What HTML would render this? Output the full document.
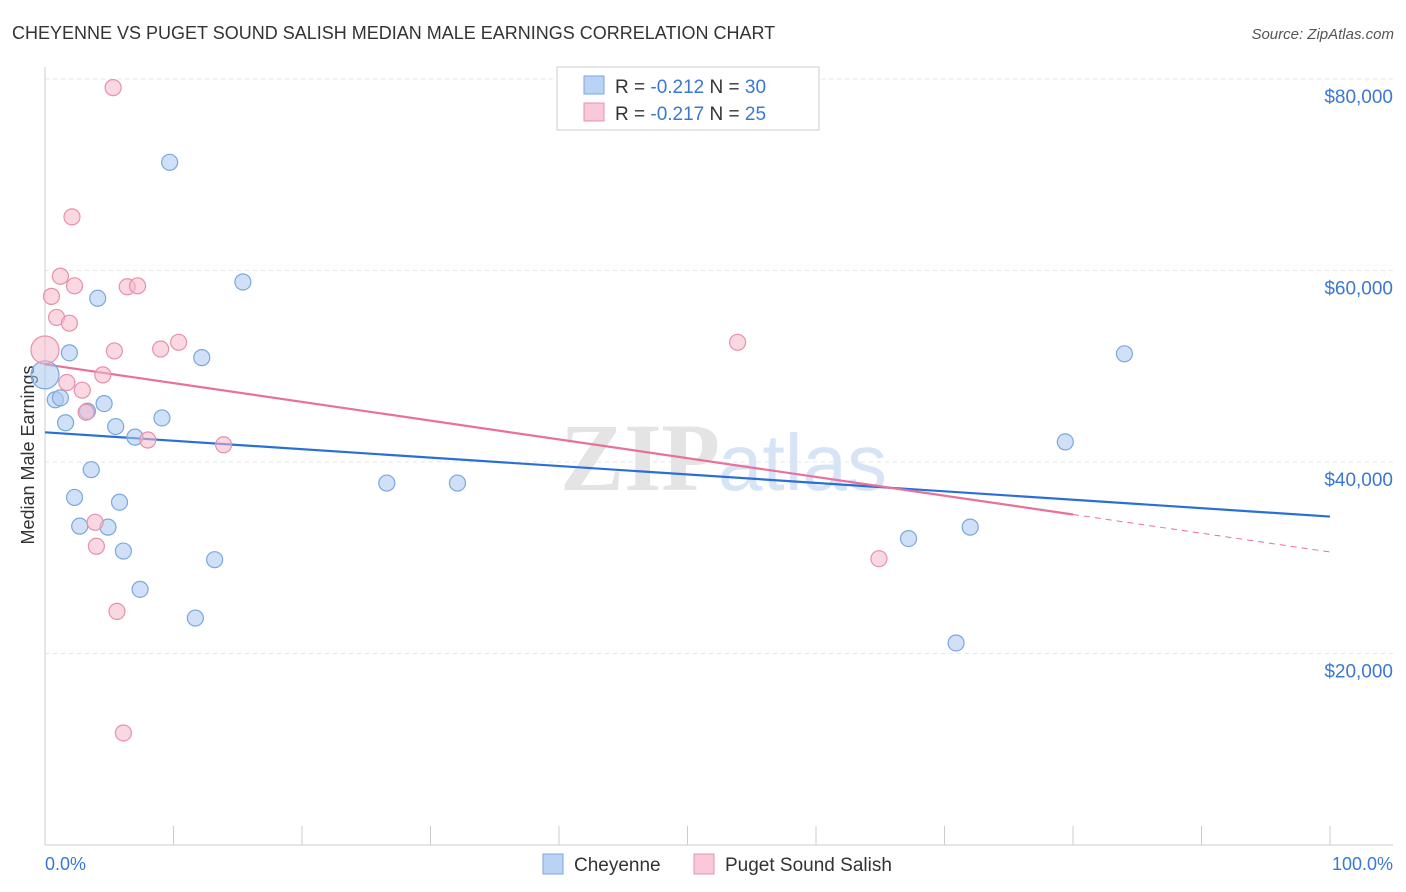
<!DOCTYPE html>
<html><head><meta charset="utf-8"><style>
body{margin:0;background:#fff;font-family:"Liberation Sans",sans-serif;}
svg{display:block}
</style></head><body>
<svg width="1406" height="892" xmlns="http://www.w3.org/2000/svg">
<text x="12" y="39" font-size="18" fill="#333">CHEYENNE VS PUGET SOUND SALISH MEDIAN MALE EARNINGS CORRELATION CHART</text>
<text x="1394" y="39" font-size="15" fill="#555" font-style="italic" text-anchor="end">Source: ZipAtlas.com</text>
<g id="grid"></g>
<text x="720" y="490" font-size="96" fill="#e4e4e4" text-anchor="end" font-family="Liberation Serif" font-weight="bold">ZIP</text>
<text x="718" y="490" font-size="80" fill="#d6e4f5">atlas</text>
<line x1="45" y1="67" x2="45" y2="845" stroke="#ccc"/>
<line x1="45" y1="845" x2="1393" y2="845" stroke="#ccc"/>
<g id="xt"></g>
<g id="yl"></g>
<text x="34" y="455" font-size="18" fill="#333" text-anchor="middle" transform="rotate(-90 34 455)">Median Male Earnings</text>
<text x="45" y="870" font-size="18" fill="#3a78d4">0.0%</text>
<text x="1393" y="870" font-size="18" fill="#3a78d4" text-anchor="end">100.0%</text>
<g id="lines"></g>
<g id="pts"></g>
<g>
<rect x="557" y="67" width="262" height="63" fill="#fff" stroke="#ccc"/>
<rect x="584" y="76" width="20" height="18" fill="#b9d3f5" stroke="#7aa7e0"/>
<rect x="584" y="103" width="20" height="18" fill="#f9c9d8" stroke="#e890ab"/>
<text x="615" y="93" font-size="19" fill="#333">R = <tspan fill="#3a78d4">-0.212</tspan>   N = <tspan fill="#3a78d4">30</tspan></text>
<text x="615" y="120" font-size="19" fill="#333">R = <tspan fill="#3a78d4">-0.217</tspan>   N = <tspan fill="#3a78d4"> 25</tspan></text>
</g>
<g>
<rect x="543" y="854" width="20" height="20" fill="#b9d3f5" stroke="#7aa7e0"/>
<text x="574" y="871" font-size="19" fill="#333">Cheyenne</text>
<rect x="694" y="854" width="20" height="20" fill="#f9c9d8" stroke="#e890ab"/>
<text x="725" y="871" font-size="19" fill="#333">Puget Sound Salish</text>
</g>
</svg>
<script>
const blueX=[9.7,15.4,4.1,1.9,12.2,84.0,0,0.8,1.2,4.6,3.3,9.1,1.6,5.5,7.0,79.4,3.6,26.6,32.1,2.3,5.8,2.7,4.9,72.0,67.2,6.1,13.2,7.4,11.7,70.9];
const blueY=[71300,58800,57100,51400,50900,51300,49100,46500,46700,46100,45300,44600,44100,43700,42600,42100,39200,37800,37800,36300,35800,33300,33200,33200,32000,30700,29800,26700,23700,21100];
const pinkX=[5.3,2.1,1.2,2.3,0.5,6.4,7.2,0.9,1.9,0,5.4,9.0,10.4,53.9,4.5,1.7,2.9,3.2,8.0,13.9,3.9,4.0,64.9,5.6,6.1];
const pinkY=[79100,65600,59400,58400,57300,58300,58400,55100,54500,51700,51600,51800,52500,52500,49100,48300,47500,45200,42300,41800,33700,31200,29900,24400,11700];
const yTicks=[20000,40000,60000,80000];
const yTickLabels=["$20,000","$40,000","$60,000","$80,000"];
const blueTrend=[43100,34300];
const pinkTrend=[50200,30600];
const pinkSolidEnd=80;
const NS="http://www.w3.org/2000/svg";
const sx=v=>45+v*12.85, sy=v=>845-v/104.44;
function mk(t,a,p){const e=document.createElementNS(NS,t);for(const k in a)e.setAttribute(k,a[k]);p.appendChild(e);return e;}
const grid=document.getElementById('grid'),yl=document.getElementById('yl'),xt=document.getElementById('xt');
yTicks.forEach((v,i)=>{
 const l=mk('line',{x1:45,x2:1393,y1:sy(v),y2:sy(v),stroke:'#e6e6e6','stroke-dasharray':'4,4'},grid);
 
 
 const t=mk('text',{x:1393,y:sy(v)+24,'font-size':19,fill:'#3a78d4','text-anchor':'end'},yl);
 t.textContent=yTickLabels[i];
 
 
});
for(let i=0;i<=10;i++){const l=mk('line',{x1:sx(i*10),x2:sx(i*10),y1:826,y2:845,stroke:'#ccc'},xt);
 
 }
const lines=document.getElementById('lines');
let b=mk('line',{x1:sx(0),y1:sy(blueTrend[0]),x2:sx(100),y2:sy(blueTrend[1]),stroke:'#2a6fd6','stroke-width':2.2},lines);


const pe=pinkTrend[0]+(pinkTrend[1]-pinkTrend[0])*pinkSolidEnd/100;
let p1=mk('line',{x1:sx(0),y1:sy(pinkTrend[0]),x2:sx(pinkSolidEnd),y2:sy(pe),stroke:'#e8709a','stroke-width':2.2},lines);


let p2=mk('line',{x1:sx(pinkSolidEnd),y1:sy(pe),x2:sx(100),y2:sy(pinkTrend[1]),stroke:'#e8709a','stroke-width':1,'stroke-dasharray':'6,5'},lines);


const pts=document.getElementById('pts');
function draw(X,Y,fill,stroke,name){X.forEach((x,i)=>{const r=(x===0)?14:8;
 const c=mk('circle',{cx:sx(x),cy:sy(Y[i]),r:r,fill:fill,'fill-opacity':0.55,stroke:stroke,'stroke-width':1.2},pts);
 
 });}
draw(blueX,blueY,'#a9c8f0','#7aa7e0','cheyenne-point');
draw(pinkX,pinkY,'#f5b8cb','#e890ab','puget-point');
</script>
</body></html>
